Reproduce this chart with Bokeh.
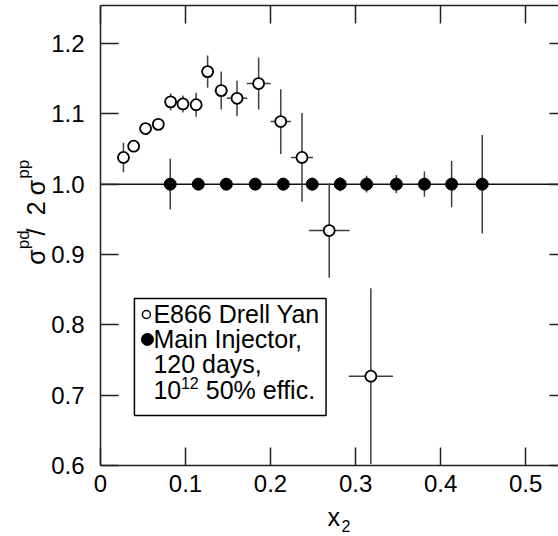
import numpy as np
from bokeh.plotting import figure
from bokeh.layouts import row, column
from bokeh.models import (Range1d, LinearAxis, FixedTicker, Span, Label,
                          BoxAnnotation, ColumnDataSource)
from bokeh.core.properties import value
from bokeh.embed import file_html
from bokeh.resources import INLINE

# ---------------- data ----------------
# E866 Drell-Yan (open circles)
e866_x = [0.027, 0.039, 0.053, 0.068, 0.0825, 0.097, 0.1125, 0.126, 0.142,
          0.1606, 0.186, 0.212, 0.237, 0.269, 0.318]
e866_y = [1.038, 1.054, 1.079, 1.085, 1.117, 1.114, 1.113, 1.160, 1.133,
          1.122, 1.143, 1.089, 1.038, 0.934, 0.727]
e866_yerr = [0.021, 0.008, 0.008, 0.007, 0.012, 0.012, 0.017, 0.023, 0.027,
             0.025, 0.037, 0.046, 0.063, 0.067, 0.125]
e866_xerr = [0.006, 0.006, 0.006, 0.006, 0.007, 0.007, 0.007, 0.007, 0.008,
             0.012, 0.014, 0.012, 0.013, 0.024, 0.026]

# Main Injector projection (filled circles)
mi_x = [0.082, 0.115, 0.148, 0.182, 0.215, 0.249, 0.282, 0.313, 0.348,
        0.381, 0.413, 0.449]
mi_y = [1.0, 1.0, 1.0, 1.0, 1.0, 1.0, 1.0, 1.0, 1.0, 1.0, 1.0, 1.0]
mi_yerr = [0.036, 0.008, 0.008, 0.008, 0.009, 0.009, 0.010, 0.012, 0.013,
           0.018, 0.033, 0.070]

x_ticks = [0.0, 0.1, 0.2, 0.3, 0.4, 0.5]
x_tick_labels = ["0", "0.1", "0.2", "0.3", "0.4", "0.5"]
y_ticks = [0.6, 0.7, 0.8, 0.9, 1.0, 1.1, 1.2]
y_tick_labels = ["0.6", "0.7", "0.8", "0.9", "1.0", "1.1", "1.2"]

legend_lines = ["E866 Drell Yan", "Main Injector,", "120 days,"]
x_title = ["x", "2"]
y_title = ["σ", "pd", "/", "2", "σ", "pp"]

FONT = "Liberation Sans"
ERRC = "#404040"


def bare(fig):
    fig.outline_line_color = None
    fig.xgrid.visible = False
    fig.ygrid.visible = False
    fig.background_fill_color = "white"
    fig.border_fill_color = "white"
    return fig


# ---------------- main figure ----------------
p = bare(figure(width=510, height=502, x_range=Range1d(0, 0.5387),
                y_range=Range1d(0.6, 1.254), output_backend="svg",
                toolbar_location=None, x_axis_location=None, y_axis_location=None,
                min_border_left=51, min_border_right=0, min_border_top=5,
                min_border_bottom=37))


def make_axis(ticks, labels, show_labels, tick_in=18, line=True):
    ax = LinearAxis(ticker=FixedTicker(ticks=ticks))
    ax.major_tick_in = tick_in
    ax.major_tick_out = 0
    ax.minor_tick_line_color = None
    ax.major_tick_line_width = 1.5
    ax.major_tick_line_color = "#222222"
    ax.axis_line_width = 1.5
    ax.axis_line_color = "#222222" if line else None
    if show_labels:
        ax.major_label_overrides = {t: l for t, l in zip(ticks, labels)}
        ax.major_label_text_font = FONT
        ax.major_label_text_font_size = "24px"
        ax.major_label_text_color = "black"
    else:
        ax.major_label_text_color = None
        ax.major_label_standoff = 0
    return ax


xb = make_axis(x_ticks, x_tick_labels, True)
xb.major_label_standoff = 9
p.add_layout(xb, "below")
yl = make_axis(y_ticks, y_tick_labels, True)
yl.major_label_standoff = 16
p.add_layout(yl, "left")
p.add_layout(make_axis(x_ticks, x_tick_labels, False), "above")
p.add_layout(make_axis(y_ticks, y_tick_labels, False, tick_in=9, line=False), "right")

# reference line at ratio 1
p.add_layout(Span(location=1.0, dimension="width", line_color="#111111",
                  line_width=1.5, level="underlay"))

# ---------------- error bars & points ----------------
ex, ey = np.array(e866_x), np.array(e866_y)
eyr, exr = np.array(e866_yerr), np.array(e866_xerr)
e_src = ColumnDataSource(dict(x=ex, y=ey, ylo=ey - eyr, yhi=ey + eyr,
                              xlo=ex - exr, xhi=ex + exr))
mx, my, myr = np.array(mi_x), np.array(mi_y), np.array(mi_yerr)
m_src = ColumnDataSource(dict(x=mx, y=my, ylo=my - myr, yhi=my + myr))

p.segment(x0="x", y0="ylo", x1="x", y1="yhi", source=m_src,
          line_color=ERRC, line_width=1.5)
p.segment(x0="x", y0="ylo", x1="x", y1="yhi", source=e_src,
          line_color=ERRC, line_width=1.5)
p.segment(x0="xlo", y0="y", x1="xhi", y1="y", source=e_src,
          line_color=ERRC, line_width=1.5)
p.scatter(x="x", y="y", source=m_src, marker="circle", size=12,
          fill_color="black", line_color="black", line_width=1)
p.scatter(x="x", y="y", source=e_src, marker="circle", size=11,
          fill_color="white", line_color="black", line_width=1.8)

# ---------------- legend (layout constants, data units) ----------------
p.add_layout(BoxAnnotation(left=0.0399, right=0.2653, top=0.8374, bottom=0.6711,
                           fill_color="white", fill_alpha=1.0, line_color="black",
                           line_alpha=1.0, line_width=1.5, level="underlay"))
p.scatter(x=[0.054], y=[0.8147], marker="circle", size=8, fill_color="white",
          line_color="black", line_width=1.5)
p.scatter(x=[0.0552], y=[0.7792], marker="circle", size=12, fill_color="black",
          line_color="black")


def lab(x, y, s, size):
    p.add_layout(Label(x=x, y=y, text=s, text_font=FONT, text_font_size=size,
                       text_color="black", text_baseline="middle",
                       text_align="left"))


lab(0.0622, 0.8147, legend_lines[0], "25px")
lab(0.0622, 0.7792, legend_lines[1], "25px")
lab(0.0622, 0.7436, legend_lines[2], "25px")
lab(0.0622, 0.7080, "10", "25px")
lab(0.0946, 0.7180, "12", "16px")
lab(0.1238, 0.7080, "50% effic.", "25px")

# ---------------- y-axis title strip (left of the main figure) ----------------
FY_H = 502
fy = bare(figure(width=48, height=FY_H, x_range=Range1d(0, 48), y_range=Range1d(0, FY_H),
                 output_backend="svg", toolbar_location=None,
                 x_axis_location=None, y_axis_location=None,
                 min_border_left=0, min_border_right=0, min_border_top=0,
                 min_border_bottom=0))
# pixel layout of the rotated title pieces (x = centre column, y = start, from bottom)
yt_x = [35, 23, 35, 35, 35, 23]
yt_y = [FY_H - 283, FY_H - 266, FY_H - 251, FY_H - 229, FY_H - 207, FY_H - 189]
yt_size = ["25px", "17px", "25px", "25px", "25px", "17px"]
fy.text(x=yt_x, y=yt_y, text=y_title, angle=np.pi / 2, text_font=value(FONT),
        text_font_size=yt_size, text_color="black", text_align="left",
        text_baseline="middle")

# ---------------- x-axis title strip (below) ----------------
fx = bare(figure(width=558, height=34, x_range=Range1d(0, 558), y_range=Range1d(0, 34),
                 output_backend="svg", toolbar_location=None,
                 x_axis_location=None, y_axis_location=None,
                 min_border_left=0, min_border_right=0, min_border_top=0,
                 min_border_bottom=0))
fx.text(x=[327, 341], y=[20, 11], text=x_title, text_font=value(FONT),
        text_font_size=["25px", "16px"], text_color="black", text_align="left",
        text_baseline="middle")

layout = column(row(fy, p, spacing=0), fx, spacing=0)
open("out.html", "w").write(file_html(layout, INLINE))
